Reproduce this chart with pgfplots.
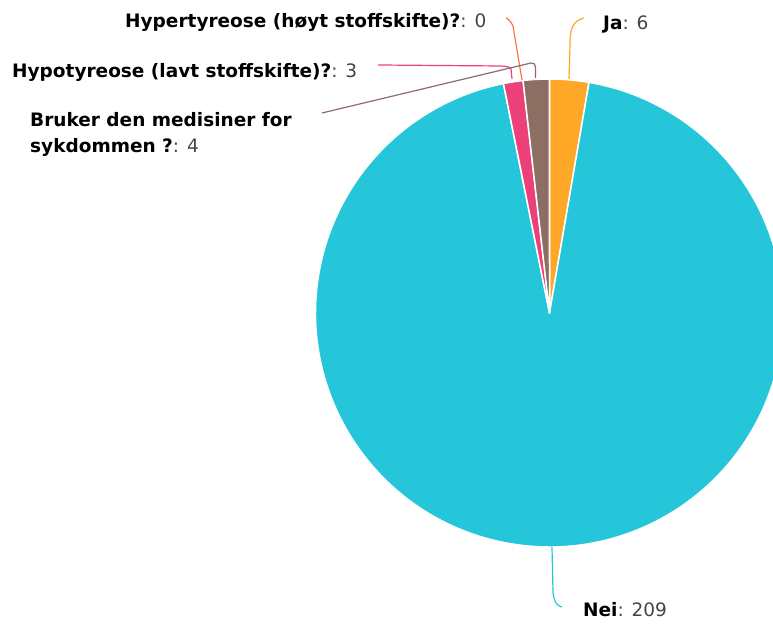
\documentclass[border=0pt]{standalone}
\usepackage{pgfplots}
\pgfplotsset{compat=1.18}
\usepackage{fontspec}
\setmainfont{DejaVu Sans}
\definecolor{cOrange}{HTML}{FFA726}
\definecolor{cCyan}{HTML}{26C6DA}
\definecolor{cPink}{HTML}{EC407A}
\definecolor{cRed}{HTML}{FF7043}
\definecolor{cBrown}{HTML}{8D6E63}
\definecolor{valgray}{HTML}{444444}
\begin{document}
\begin{tikzpicture}
\useasboundingbox (0,0) rectangle (773bp,624bp);
\begin{axis}[at={(0,0)},anchor=south west,width=773bp,height=624bp,scale only axis,
  xmin=0,xmax=773,ymin=0,ymax=624,hide axis,clip=true]
\pgfplotsextra{
  % values (clockwise from 12 o'clock): Ja, Nei, Hypotyreose, Hypertyreose, Bruker
  \gdef\pietotal{0}
  \foreach \v in {6,209,3,0,4}{\pgfmathsetmacro{\t}{\pietotal+\v}\xdef\pietotal{\t}}
  \gdef\startang{90}
  \foreach \v/\c in {6/cOrange,209/cCyan,3/cPink,0/cRed,4/cBrown}{
    \pgfmathsetmacro{\endang}{\startang-(\v/\pietotal)*360}
    \ifdim\v pt>0pt
      \fill[\c,draw=white,line width=1.5bp,line join=round]
        (axis cs:549.5,311) -- ([shift={(\startang:234bp)}]axis cs:549.5,311)
        arc[start angle=\startang,end angle=\endang,radius=234bp] -- cycle;
    \fi
    \xdef\startang{\endang}
  }
}
% connectors
\begin{scope}[line width=1.2bp]
\draw[cOrange] (axis cs:569,545) -- (axis cs:570,580) .. controls (axis cs:570,598) and (axis cs:574,603) .. (axis cs:584,606);
\draw[cCyan] (axis cs:552,77) -- (axis cs:553,32) .. controls (axis cs:554,22) and (axis cs:557,18) .. (axis cs:562,17);
\draw[cRed] (axis cs:522,544) -- (axis cs:513,598) .. controls (axis cs:511,602) and (axis cs:509,605) .. (axis cs:506,606);
\draw[cPink] (axis cs:512,545) -- (axis cs:511,555) .. controls (axis cs:510,557) and (axis cs:506,558) .. (axis cs:500,558) -- (axis cs:378,559);
\draw[cBrown] (axis cs:535.5,546) -- (axis cs:535.5,557) .. controls (axis cs:535.5,560) and (axis cs:534,561) .. (axis cs:531,561) -- (axis cs:322,511);
\end{scope}
% labels
\begin{scope}[every node/.style={inner sep=0pt,anchor=west,font=\fontsize{18.5bp}{22bp}\selectfont}]
\node at (axis cs:125,602) {\textbf{Hypertyreose (høyt stoffskifte)?}\textcolor{valgray}{: 0}};
\node at (axis cs:12,552) {\textbf{Hypotyreose (lavt stoffskifte)?}\textcolor{valgray}{: 3}};
\node at (axis cs:30,504) {\textbf{Bruker den medisiner for}};
\node at (axis cs:30,477) {\textbf{sykdommen ?}\textcolor{valgray}{: 4}};
\node at (axis cs:603,600) {\textbf{Ja}\textcolor{valgray}{: 6}};
\node at (axis cs:583,14) {\textbf{Nei}\textcolor{valgray}{: 209}};
\end{scope}
\end{axis}
\end{tikzpicture}
\end{document}
